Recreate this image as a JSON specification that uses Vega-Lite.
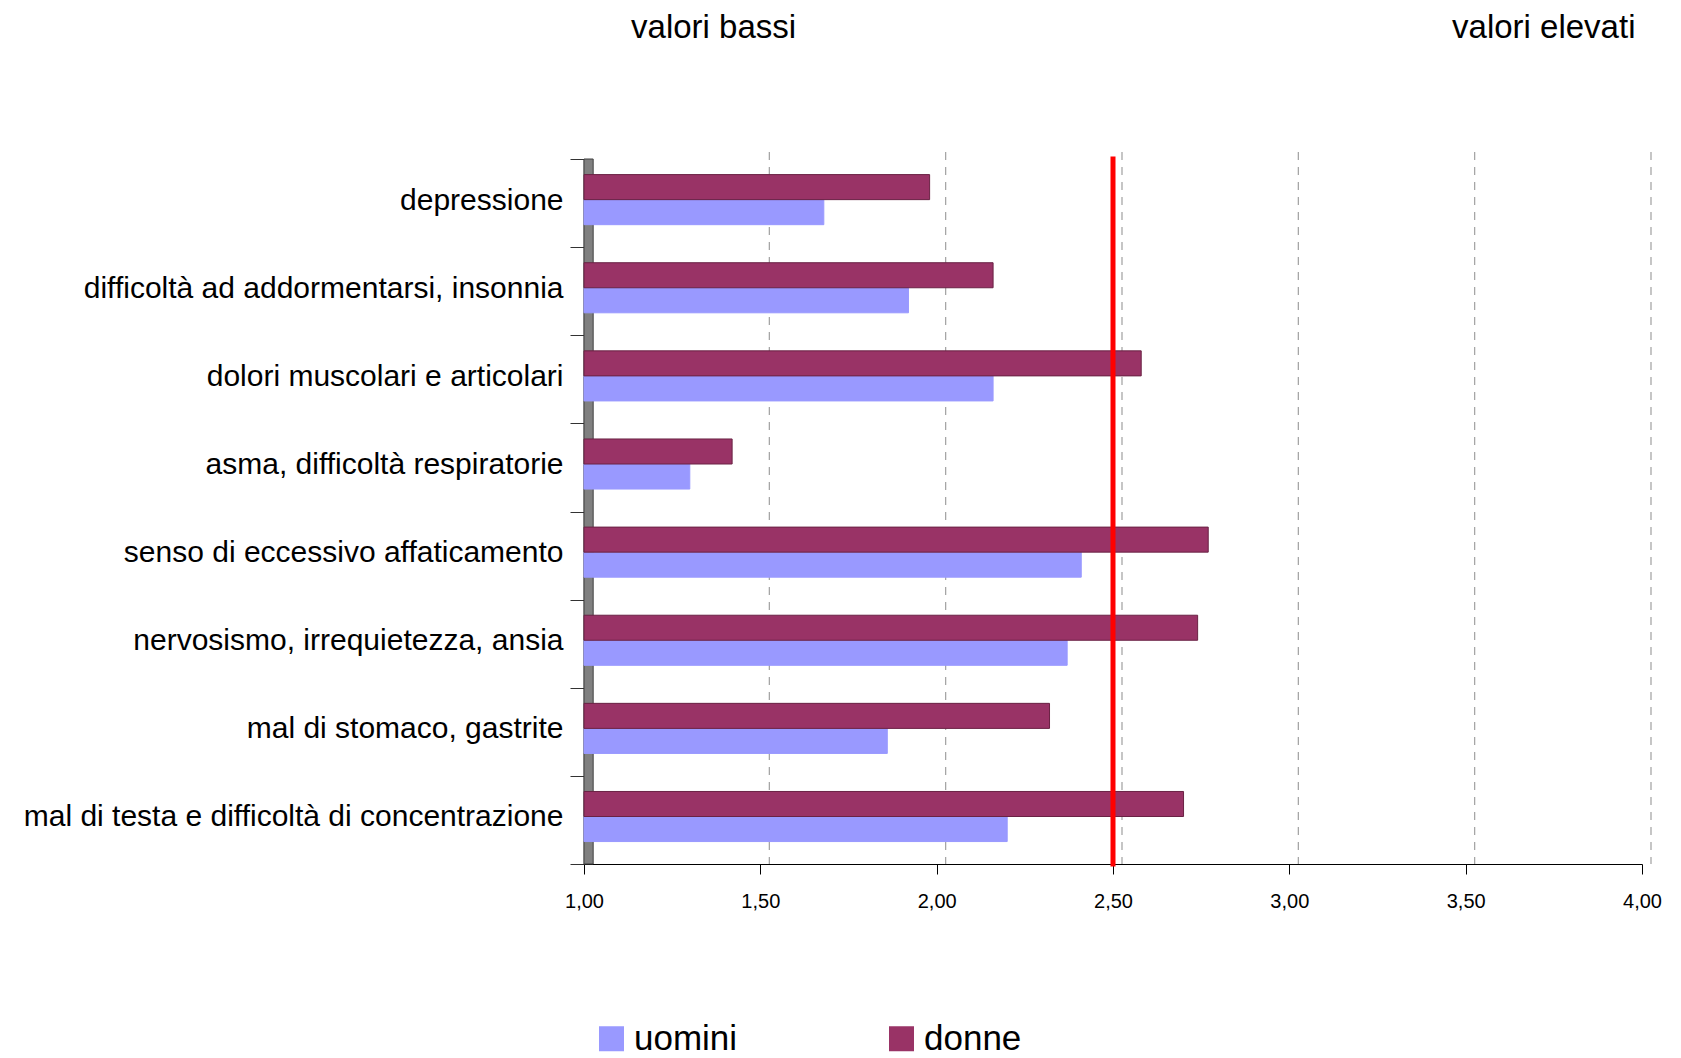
{
  "$schema": "https://vega.github.io/schema/vega-lite/v6.json",
  "width": 1058,
  "height": 705,
  "autosize": "none",
  "padding": {"left": 584, "top": 159, "right": 39, "bottom": 194},
  "background": "white",
  "config": {"view": {"stroke": null}, "font": "Liberation Sans"},
  "data": {
    "values": [
      {"sintomo": "depressione", "sesso": "uomini", "valore": 1.68},
      {"sintomo": "depressione", "sesso": "donne", "valore": 1.98},
      {"sintomo": "difficoltà ad addormentarsi, insonnia", "sesso": "uomini", "valore": 1.92},
      {"sintomo": "difficoltà ad addormentarsi, insonnia", "sesso": "donne", "valore": 2.16},
      {"sintomo": "dolori muscolari e articolari", "sesso": "uomini", "valore": 2.16},
      {"sintomo": "dolori muscolari e articolari", "sesso": "donne", "valore": 2.58},
      {"sintomo": "asma, difficoltà respiratorie", "sesso": "uomini", "valore": 1.30},
      {"sintomo": "asma, difficoltà respiratorie", "sesso": "donne", "valore": 1.42},
      {"sintomo": "senso di eccessivo affaticamento", "sesso": "uomini", "valore": 2.41},
      {"sintomo": "senso di eccessivo affaticamento", "sesso": "donne", "valore": 2.77},
      {"sintomo": "nervosismo, irrequietezza, ansia", "sesso": "uomini", "valore": 2.37},
      {"sintomo": "nervosismo, irrequietezza, ansia", "sesso": "donne", "valore": 2.74},
      {"sintomo": "mal di stomaco, gastrite", "sesso": "uomini", "valore": 1.86},
      {"sintomo": "mal di stomaco, gastrite", "sesso": "donne", "valore": 2.32},
      {"sintomo": "mal di testa e difficoltà di concentrazione", "sesso": "uomini", "valore": 2.20},
      {"sintomo": "mal di testa e difficoltà di concentrazione", "sesso": "donne", "valore": 2.70}
    ]
  },
  "resolve": {"axis": {"x": "independent"}},
  "layer": [
    {
      "data": {"values": [{}]},
      "mark": {"type": "rect", "fill": "#808080", "stroke": "#404040", "strokeWidth": 1},
      "encoding": {
        "x": {"datum": 1, "type": "quantitative", "scale": {"domain": [1, 4], "zero": false, "nice": false}, "axis": null},
        "x2": {"datum": 1.026}
      }
    },
    {
      "data": {"values": [{"v": 1.5}, {"v": 2}, {"v": 2.5}, {"v": 3}, {"v": 3.5}, {"v": 4}]},
      "mark": {"type": "rule", "color": "#a0a0a0", "strokeDash": [8, 7], "strokeWidth": 1.2, "xOffset": 9, "yOffset": -7},
      "encoding": {
        "x": {
          "field": "v",
          "type": "quantitative",
          "axis": {
            "orient": "top",
            "values": [1.366, 3.72],
            "labelExpr": "datum.value < 2 ? 'valori bassi' : 'valori elevati'",
            "title": null,
            "domain": false,
            "ticks": false,
            "tickSize": 0,
            "grid": false,
            "labelFontSize": 33,
            "labelColor": "#000000",
            "labelPadding": 115,
            "labelLimit": 0,
            "labelFlush": false,
            "labelOverlap": false
          }
        }
      }
    },
    {
      "mark": {"type": "bar", "strokeWidth": 1},
      "encoding": {
        "y": {
          "field": "sintomo",
          "type": "nominal",
          "sort": [
            "depressione",
            "difficoltà ad addormentarsi, insonnia",
            "dolori muscolari e articolari",
            "asma, difficoltà respiratorie",
            "senso di eccessivo affaticamento",
            "nervosismo, irrequietezza, ansia",
            "mal di stomaco, gastrite",
            "mal di testa e difficoltà di concentrazione"
          ],
          "scale": {"paddingInner": 0, "paddingOuter": 0},
          "axis": {
            "title": null,
            "labelFontSize": 30,
            "labelColor": "#000000",
            "labelPadding": 7,
            "labelLimit": 0,
            "labelOffset": -3,
            "tickSize": 14,
            "tickColor": "#333333",
            "tickBand": "extent",
            "domainColor": "#000000",
            "domainWidth": 1.5
          }
        },
        "yOffset": {
          "field": "sesso",
          "sort": ["donne", "uomini"],
          "scale": {"paddingInner": 0, "paddingOuter": 0.76, "align": 0.41}
        },
        "x": {
          "field": "valore",
          "type": "quantitative",
          "scale": {"domain": [1, 4], "zero": false, "nice": false},
          "axis": {
            "orient": "bottom",
            "values": [1, 1.5, 2, 2.5, 3, 3.5, 4],
            "labelExpr": "replace(format(datum.value, '.2f'), '.', ',')",
            "title": null,
            "grid": false,
            "tickSize": 10,
            "tickColor": "#000000",
            "domainColor": "#000000",
            "labelFontSize": 20,
            "labelColor": "#000000",
            "labelPadding": 17,
            "labelFlush": false
          }
        },
        "x2": {"datum": 1},
        "color": {
          "field": "sesso",
          "type": "nominal",
          "scale": {"domain": ["uomini", "donne"], "range": ["#9999FF", "#993366"]},
          "legend": {
            "orient": "none",
            "legendX": 10,
            "legendY": 862,
            "direction": "horizontal",
            "title": null,
            "symbolType": "square",
            "symbolSize": 625,
            "symbolStrokeWidth": 0,
            "symbolOpacity": 1,
            "labelFontSize": 35,
            "labelColor": "#000000",
            "labelOffset": 5,
            "columnPadding": 146,
            "padding": 0
          }
        },
        "stroke": {
          "condition": {"test": "datum.sesso === 'donne'", "value": "#6a2244"},
          "value": "#9999FF"
        }
      }
    },
    {
      "data": {"values": [{}]},
      "mark": {"type": "rule", "color": "#ff0000", "strokeWidth": 5, "strokeCap": "square"},
      "encoding": {
        "x": {"datum": 2.5, "type": "quantitative", "axis": null}
      }
    }
  ]
}
